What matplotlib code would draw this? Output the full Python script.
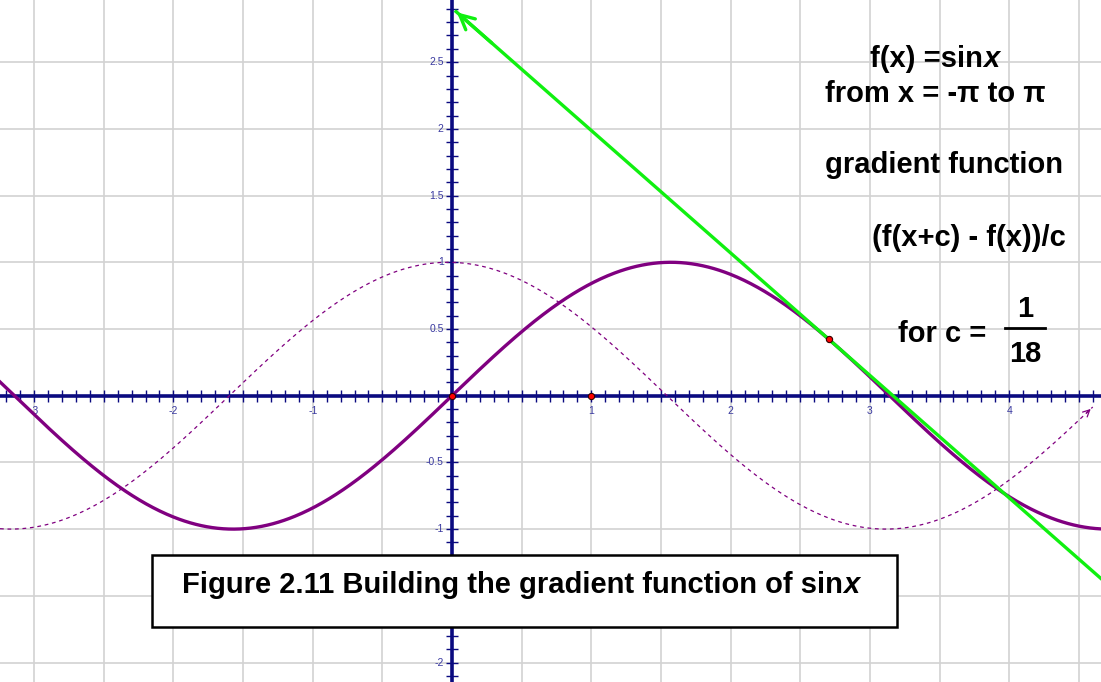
import numpy as np
import matplotlib.pyplot as plt
from matplotlib.patches import Rectangle
from matplotlib.text import Annotation

plt.rcParams['font.family'] = ['Liberation Sans', 'DejaVu Sans']

# view window and step used for the gradient
x_min, x_max = -3.245, 4.659
y_min, y_max = -2.146, 2.966
c = 1 / 18
x_point = 2.706          # where the chord is drawn
marked_x = [0, 1]        # points marked on the x axis

x_labels = [-3, -2, -1, 1, 2, 3, 4]
y_labels = [2.5, 2, 1.5, 1, 0.5, -0.5, -1, -2]

navy = '#0a0a80'
purple = '#800080'
green = '#10f010'

fig = plt.figure(figsize=(11.01, 6.82), dpi=100)
ax = fig.add_axes([0, 0, 1, 1])
ax.set_xlim(x_min, x_max)
ax.set_ylim(y_min, y_max)
for s in ax.spines.values():
    s.set_visible(False)

# grid every 0.5
ax.set_xticks(np.arange(-3, 4.6, 0.5))
ax.set_yticks(np.arange(-2, 2.6, 0.5))
ax.tick_params(length=0, labelbottom=False, labelleft=False)
ax.grid(True, color='#d2d2d2', lw=1.2, zorder=0)

# axes with small ticks every 0.1
ax.axhline(0, color=navy, lw=2.6, zorder=3)
ax.axvline(0, color=navy, lw=2.6, zorder=3)
xt = np.arange(-3.2, 4.65, 0.1)
yt = np.arange(-2.1, 2.95, 0.1)
ax.plot(xt, np.zeros_like(xt), ls='none', marker='|', ms=8.5, mew=1.0, color=navy, zorder=3)
ax.plot(np.zeros_like(yt), yt, ls='none', marker='_', ms=8.5, mew=1.0, color=navy, zorder=3)

for v in x_labels:
    ax.text(v, -0.115, str(v), ha='center', va='center', fontsize=7.5, color='#3a3aa0', zorder=4)
for v in y_labels:
    ax.text(-0.06, v, f'{v:g}', ha='right', va='center', fontsize=7.5, color='#3a3aa0', zorder=4)

# f(x) = sin x and its gradient function
xs = np.linspace(x_min, x_max, 800)
ax.plot(xs, np.sin(xs), color=purple, lw=2.4, zorder=5)
xd = xs[xs <= 4.6]
ax.plot(xd, (np.sin(xd + c) - np.sin(xd)) / c, color=purple, lw=0.9,
        dashes=(3, 3), zorder=5)
xe = xd[-1]
ax.annotate('', xy=(xe, (np.sin(xe + c) - np.sin(xe)) / c),
            xytext=(xe - 0.06, (np.sin(xe - 0.06 + c) - np.sin(xe - 0.06)) / c),
            arrowprops=dict(arrowstyle='->', color=purple, lw=0.9,
                            mutation_scale=12), zorder=5)

# chord from x_point to x_point + c, extended
m = (np.sin(x_point + c) - np.sin(x_point)) / c
y0 = np.sin(x_point)
xl = np.array([0.02, x_max + 0.1])
ax.plot(xl, y0 + m * (xl - x_point), color=green, lw=2.4, zorder=6,
        solid_capstyle='butt')
ax.annotate('', xy=(0.02, y0 + m * (0.02 - x_point)),
            xytext=(0.3, y0 + m * (0.3 - x_point)),
            arrowprops=dict(arrowstyle='->', color=green, lw=2.4,
                            mutation_scale=26), zorder=6)

ax.plot(marked_x, [0, 0], ls='none', marker='o', ms=4.5, mfc='red', mec='#300000',
        mew=0.8, zorder=7)
ax.plot([x_point], [y0], ls='none', marker='o', ms=4.5, mfc='red', mec='#300000',
        mew=0.8, zorder=7)


def bold_with_x(px, py, s, size):
    # bold text followed by an italic x
    t = fig.text(px / 1101, 1 - py / 682, s, fontsize=size, fontweight='bold',
                 ha='left', va='baseline', zorder=10)
    fig.add_artist(Annotation('x', xy=(1, 0), xycoords=t, ha='left', va='bottom',
                              fontsize=size, fontweight='bold', fontstyle='italic',
                              zorder=10))
    return t


def label(px, py, s, size=21, ha='left'):
    return fig.text(px / 1101, 1 - py / 682, s, fontsize=size, fontweight='bold',
                    ha=ha, va='baseline', zorder=10)


bold_with_x(870, 67, 'f(x) =sin', 21)
label(825, 102, 'from x = -\u03c0 to \u03c0')
label(825, 173, 'gradient function')
label(872, 246, '(f(x+c) - f(x))/c')
label(898, 342, 'for c =')
label(1025, 317, '1', ha='center')
label(1025, 362, '18', ha='center')
fig.add_artist(plt.Line2D([1005 / 1101, 1045 / 1101], [1 - 328 / 682, 1 - 328 / 682],
                          color='black', lw=2))

# caption box
fig.add_artist(Rectangle((152 / 1101, 1 - 627 / 682), 745 / 1101, 72 / 682,
                         transform=fig.transFigure, facecolor='white',
                         edgecolor='black', lw=1.8, zorder=9))
bold_with_x(182, 593, 'Figure 2.11 Building the gradient function of sin', 21)

fig.savefig('out.png', dpi=100)
